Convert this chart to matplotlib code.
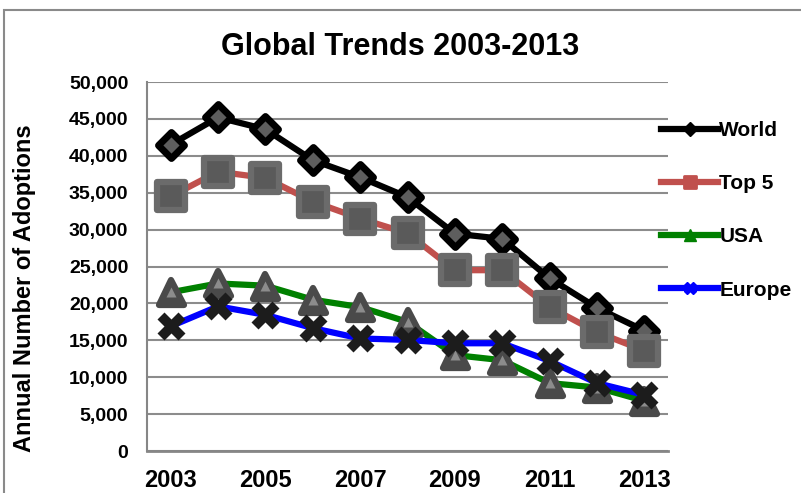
import matplotlib
matplotlib.use("Agg")
import matplotlib.pyplot as plt
from matplotlib.lines import Line2D
from matplotlib.markers import MarkerStyle
from matplotlib.patches import Rectangle

plt.rcParams['font.family'] = ['Liberation Sans', 'DejaVu Sans']

years = [2003, 2004, 2005, 2006, 2007, 2008, 2009, 2010, 2011, 2012, 2013]
world = [41500, 45200, 43600, 39400, 37100, 34400, 29450, 28750, 23400, 19400, 16300]
top5 = [34500, 37850, 37000, 33800, 31500, 29500, 24500, 24500, 19500, 16100, 13600]
usa = [21500, 22700, 22400, 20500, 19500, 17500, 13000, 12300, 9200, 8600, 6800]
europe = [16900, 19600, 18450, 16650, 15250, 15050, 14600, 14600, 12200, 9200, 7600]
xtick_labels = ['2003', '', '2005', '', '2007', '', '2009', '', '2011', '', '2013']
yticks = [0, 5000, 10000, 15000, 20000, 25000, 30000, 35000, 40000, 45000, 50000]
ytick_labels = ['0', '5,000', '10,000', '15,000', '20,000', '25,000', '30,000',
                '35,000', '40,000', '45,000', '50,000']

W, H = 801, 493
fig = plt.figure(figsize=(W / 100, H / 100), dpi=100)
ax = fig.add_axes([147 / W, 1 - 451 / H, (668 - 147) / W, (451 - 82) / H])

x = list(range(len(years)))

def ms(m):
    return MarkerStyle(m, joinstyle='round')

# World
ax.plot(x, world, color='black', lw=4.5, zorder=3, solid_capstyle='round',
        marker=ms('D'), ms=13.5, mfc='#5e5e5e', mec='black', mew=5)
# Top 5
ax.plot(x, top5, color='#C0504D', lw=4.5, zorder=4)
ax.plot(x, top5, ls='none', marker=ms('s'), ms=19.5, mfc='#5a5a5a', mec='#6b6b6b',
        mew=4.5, zorder=4.1)
# USA
ax.plot(x, usa, color='#008000', lw=4.5, zorder=5)
ax.plot(x, usa, ls='none', marker=ms('^'), ms=18, mfc='#4a4a4a', mec='#4a4a4a',
        mew=4.5, zorder=5.1)
ax.plot(x, usa, ls='none', marker='^', ms=7, mfc='#8c8c8c', mec='none', zorder=5.2)
# Europe
ax.plot(x, europe, color='#0000FF', lw=4.5, zorder=6)
ax.plot(x, europe, ls='none', marker='X', ms=20.5, mfc='#1c1c1c', mec='none',
        zorder=6.1)

ax.set_xlim(-0.5, 10.5)
ax.set_ylim(0, 50000)
ax.set_yticks(yticks)
ax.set_yticklabels(ytick_labels, fontsize=14, fontweight='bold')
ax.set_xticks(x)
ax.set_xticklabels(xtick_labels, fontsize=17, fontweight='bold')
ax.tick_params(axis='y', length=0, pad=13.5)
ax.tick_params(axis='x', length=0, pad=13)
ax.grid(axis='y', color='#8c8c8c', lw=1.5)
ax.set_axisbelow(True)
for s in ['top', 'right']:
    ax.spines[s].set_visible(False)
ax.spines['left'].set_color('#868686')
ax.spines['left'].set_linewidth(1.5)
ax.spines['bottom'].set_color('#868686')
ax.spines['bottom'].set_linewidth(2)

fig.text(25 / W, 1 - 288 / H, 'Annual Number of Adoptions', rotation=90,
         fontsize=17, fontweight='bold', ha='center', va='center')
fig.text(400 / W, 1 - 47 / H, 'Global Trends 2003-2013', fontsize=22,
         fontweight='bold', ha='center', va='center')

handles = [
    Line2D([], [], color='black', lw=4.5, marker='D', ms=7, mfc='black', mec='black'),
    Line2D([], [], color='#C0504D', lw=4.5, marker=ms('s'), ms=9, mfc='#C0504D', mec='#C0504D', mew=2),
    Line2D([], [], color='#008000', lw=4.5, marker='^', ms=9, mfc='#008000', mec='#008000'),
    Line2D([], [], color='#0000FF', lw=4.5, marker='X', ms=8, mfc='#0000FF', mec='#0000FF'),
]
leg = fig.legend(handles, ['World', 'Top 5', 'USA', 'Europe'],
                 loc='upper left', bbox_to_anchor=(661 / W, 1 - 121 / H),
                 frameon=False, prop={'size': 15, 'weight': 'bold'},
                 handlelength=2.75, handletextpad=0.05, labelspacing=1.64,
                 borderaxespad=0, borderpad=0)

fig.add_artist(Rectangle((4 / W, -0.1), 1.2, (H - 10) / H + 0.1,
                         transform=fig.transFigure, fill=False,
                         edgecolor='#8a8a8a', lw=1.5, clip_on=False))

fig.savefig('out.png', dpi=100)
